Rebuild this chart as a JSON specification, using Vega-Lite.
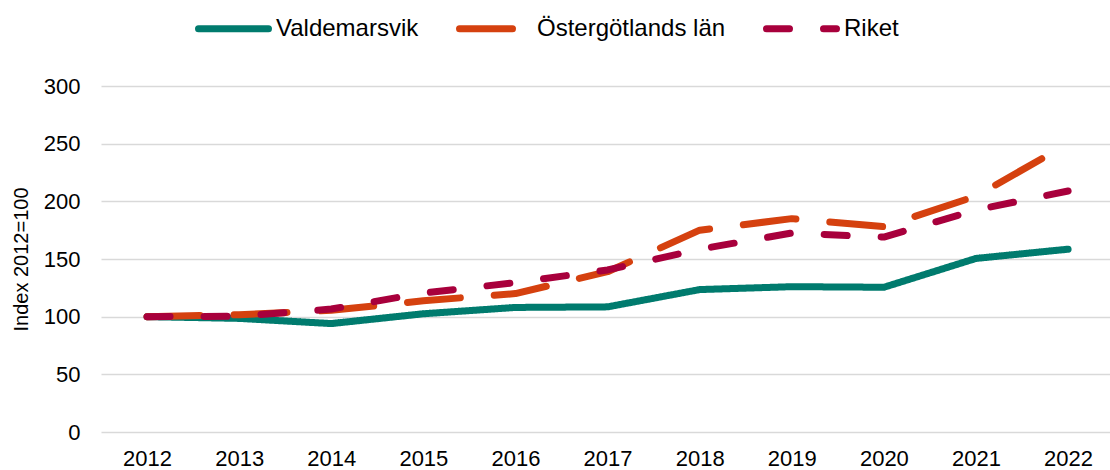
{
  "$schema": "https://vega.github.io/schema/vega-lite/v6.json",
  "width": 1009,
  "height": 346,
  "autosize": {"type": "none"},
  "padding": {"left": 101, "top": 86, "right": 0, "bottom": 38},
  "background": "white",
  "config": {
    "font": "Liberation Sans",
    "view": {"stroke": null}
  },
  "data": {
    "values": [
      {"year": 2012, "serie": "Valdemarsvik", "value": 100},
      {"year": 2013, "serie": "Valdemarsvik", "value": 98.5},
      {"year": 2014, "serie": "Valdemarsvik", "value": 94},
      {"year": 2015, "serie": "Valdemarsvik", "value": 102.5},
      {"year": 2016, "serie": "Valdemarsvik", "value": 108},
      {"year": 2017, "serie": "Valdemarsvik", "value": 108.5},
      {"year": 2018, "serie": "Valdemarsvik", "value": 123.5},
      {"year": 2019, "serie": "Valdemarsvik", "value": 126},
      {"year": 2020, "serie": "Valdemarsvik", "value": 125.5},
      {"year": 2021, "serie": "Valdemarsvik", "value": 150.5},
      {"year": 2022, "serie": "Valdemarsvik", "value": 158.5},
      {"year": 2012, "serie": "Östergötlands län", "value": 100},
      {"year": 2013, "serie": "Östergötlands län", "value": 101.7},
      {"year": 2014, "serie": "Östergötlands län", "value": 105.5},
      {"year": 2015, "serie": "Östergötlands län", "value": 113.8},
      {"year": 2016, "serie": "Östergötlands län", "value": 120},
      {"year": 2017, "serie": "Östergötlands län", "value": 139},
      {"year": 2018, "serie": "Östergötlands län", "value": 175},
      {"year": 2019, "serie": "Östergötlands län", "value": 185},
      {"year": 2020, "serie": "Östergötlands län", "value": 178},
      {"year": 2021, "serie": "Östergötlands län", "value": 204.5},
      {"year": 2022, "serie": "Östergötlands län", "value": 250},
      {"year": 2012, "serie": "Riket", "value": 100},
      {"year": 2013, "serie": "Riket", "value": 100.3},
      {"year": 2014, "serie": "Riket", "value": 106.6},
      {"year": 2015, "serie": "Riket", "value": 120.5},
      {"year": 2016, "serie": "Riket", "value": 129.5},
      {"year": 2017, "serie": "Riket", "value": 140.5},
      {"year": 2018, "serie": "Riket", "value": 158.5},
      {"year": 2019, "serie": "Riket", "value": 172.5},
      {"year": 2020, "serie": "Riket", "value": 169},
      {"year": 2021, "serie": "Riket", "value": 192.5},
      {"year": 2022, "serie": "Riket", "value": 209}
    ]
  },
  "encoding": {
    "x": {
      "field": "year",
      "type": "quantitative",
      "scale": {"domain": [2011.5, 2022.455], "nice": false, "zero": false},
      "axis": {
        "title": null,
        "values": [2012, 2013, 2014, 2015, 2016, 2017, 2018, 2019, 2020, 2021, 2022],
        "format": "d",
        "grid": false,
        "domain": false,
        "ticks": false,
        "labelPadding": 16,
        "labelFontSize": 22,
        "labelColor": "#000000",
        "labelFlush": false,
        "labelOverlap": false
      }
    },
    "y": {
      "field": "value",
      "type": "quantitative",
      "scale": {"domain": [0, 300], "nice": false},
      "axis": {
        "title": "Index 2012=100",
        "titleFontSize": 20,
        "titleFontWeight": "normal",
        "titleColor": "#000000",
        "titleAngle": -90,
        "titleBaseline": "middle",
        "titleX": -79.5,
        "titleY": 173,
        "values": [0, 50, 100, 150, 200, 250, 300],
        "grid": true,
        "gridColor": "#d9d9d9",
        "gridWidth": 1.5,
        "domain": false,
        "ticks": false,
        "labelPadding": 21,
        "labelFontSize": 22,
        "labelColor": "#000000"
      }
    },
    "color": {
      "field": "serie",
      "type": "nominal",
      "scale": {
        "domain": ["Valdemarsvik", "Östergötlands län", "Riket"],
        "range": ["#007b6e", "#d5410f", "#a8003c"]
      },
      "legend": {
        "title": null,
        "orient": "none",
        "direction": "horizontal",
        "legendX": 94,
        "legendY": -96,
        "padding": 0,
        "symbolType": "stroke",
        "symbolSize": 4900,
        "symbolStrokeWidth": 7,
        "labelFontSize": 24,
        "labelColor": "#000000",
        "labelOffset": 4,
        "columnPadding": 26,
        "labelLimit": 400,
        "encode": {"symbols": {"update": {"strokeCap": {"value": "round"}}}}
      }
    },
    "strokeDash": {
      "field": "serie",
      "type": "nominal",
      "scale": {
        "domain": ["Valdemarsvik", "Östergötlands län", "Riket"],
        "range": [[1, 0], [53, 34], [23, 34]]
      },
      "legend": null
    }
  },
  "layer": [
    {
      "transform": [{"filter": "datum.serie === 'Valdemarsvik'"}],
      "mark": {"type": "line", "strokeWidth": 7, "strokeCap": "round", "strokeJoin": "round"}
    },
    {
      "transform": [{"filter": "datum.serie === 'Östergötlands län'"}],
      "mark": {"type": "line", "strokeWidth": 7, "strokeCap": "round", "strokeJoin": "round"}
    },
    {
      "transform": [{"filter": "datum.serie === 'Riket'"}],
      "mark": {"type": "line", "strokeWidth": 7, "strokeCap": "round", "strokeJoin": "round"}
    }
  ]
}
